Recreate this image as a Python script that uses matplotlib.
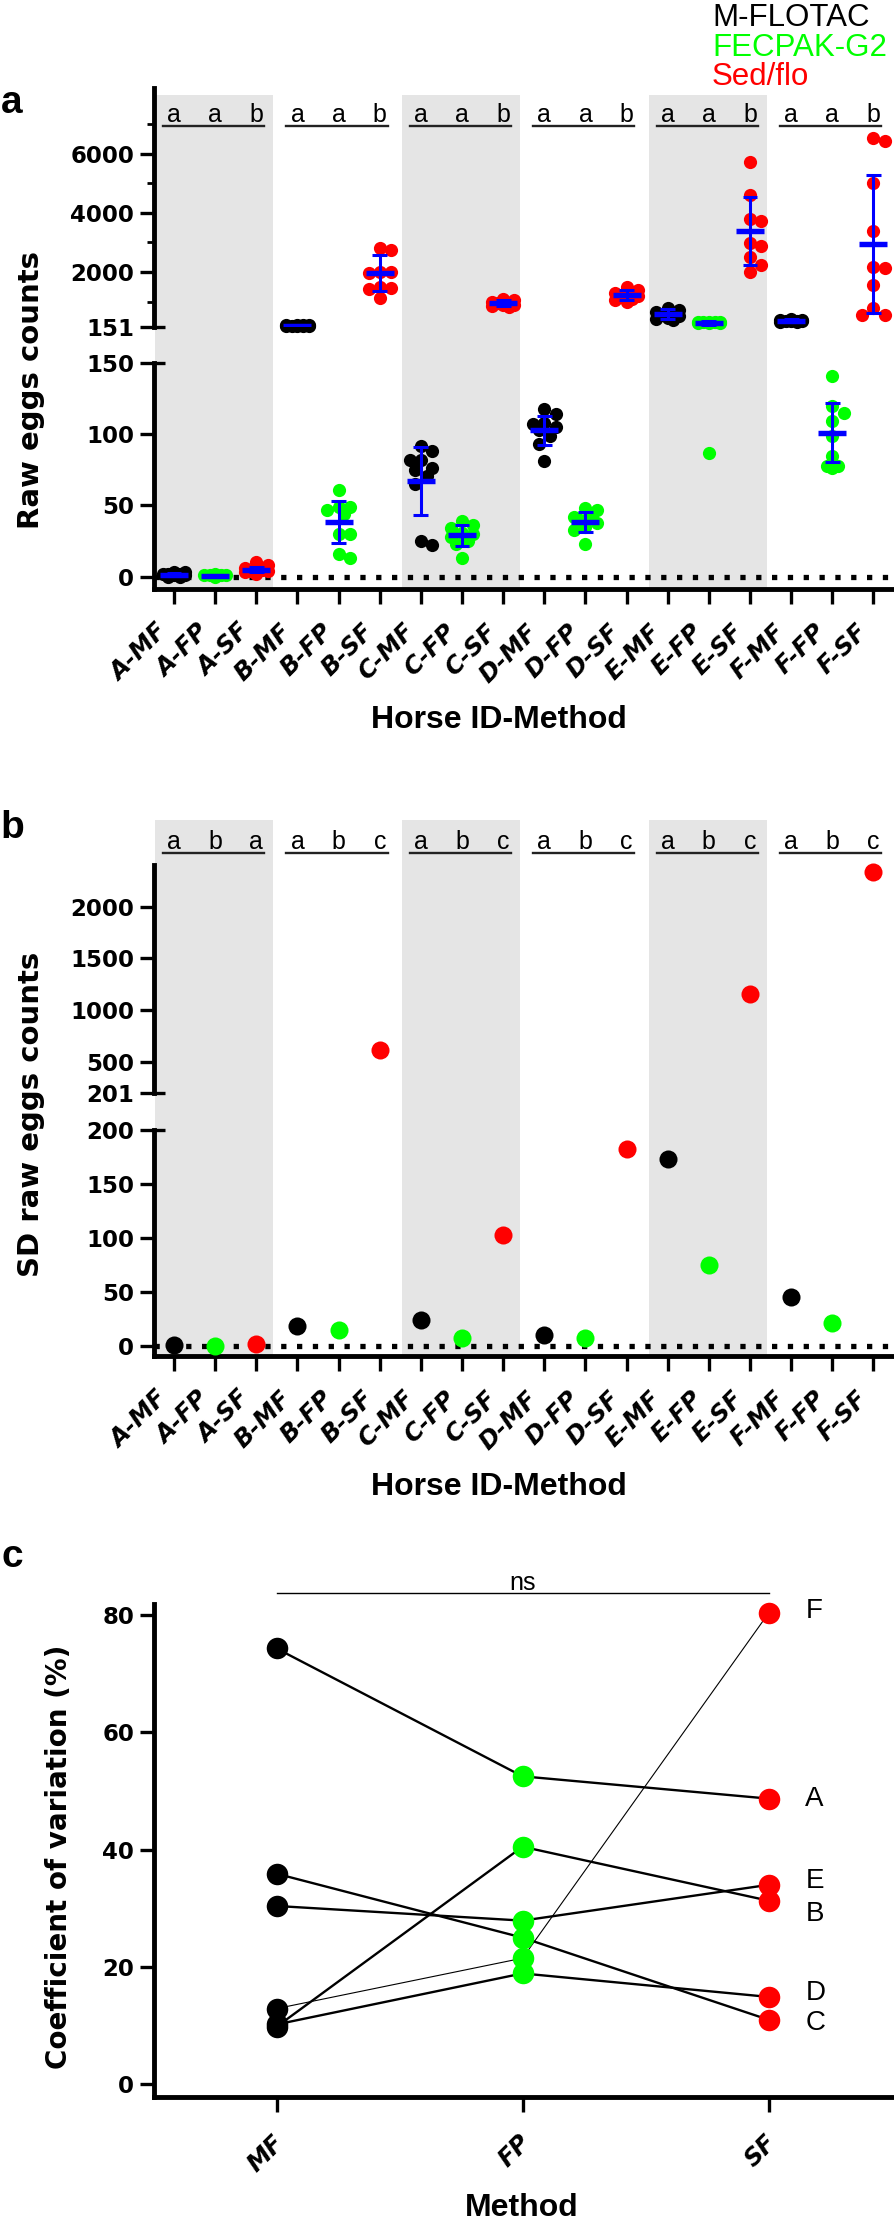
import matplotlib
matplotlib.use('Agg')
import matplotlib.pyplot as plt
from matplotlib.transforms import blended_transform_factory, ScaledTranslation

W, H, DPI = 894, 2232, 100

# ---------------- data ----------------
horses = ['A', 'B', 'C', 'D', 'E', 'F']
methods = ['MF', 'FP', 'SF']
categories = [h + '-' + m for h in horses for m in methods]
method_names = ['M-FLOTAC', 'FECPAK-G2', 'Sed/flo']
method_colors = ['#000000', '#00ff00', '#ff0000']

raw_A_MF = [0, 0, 1, 1, 2, 2, 2, 3, 3]
raw_A_FP = [0, 1, 1, 1, 1, 1, 1, 1, 2]
raw_A_SF = [2, 3, 4, 4, 5, 5, 6, 8, 10]
raw_B_MF = [165, 172, 180, 185, 190, 195, 200, 208, 215]
raw_B_FP = [61, 49, 49, 47, 44, 30, 30, 16, 13]
raw_B_SF = [2805, 2747, 1990, 1990, 1950, 1500, 1467, 1423, 1107]
raw_C_MF = [92, 88, 82, 82, 76, 75, 71, 65, 25, 22]
raw_C_FP = [39, 36, 34, 31, 30, 28, 25, 23, 13]
raw_C_SF = [1100, 1050, 1000, 960, 940, 900, 880, 850, 820]
raw_D_MF = [118, 114, 108, 107, 105, 103, 99, 93, 81]
raw_D_FP = [48, 47, 42, 41, 40, 38, 35, 33, 23]
raw_D_SF = [1500, 1400, 1300, 1250, 1200, 1150, 1100, 1050, 1000]
raw_E_MF = [780, 720, 650, 600, 560, 500, 450, 400, 380]
raw_E_FP = [320, 310, 305, 300, 295, 290, 285, 280, 87]
raw_E_SF = [5726, 4601, 3790, 3723, 2970, 2878, 2517, 2236, 1990]
raw_F_MF = [410, 390, 370, 360, 355, 350, 340, 320, 300]
raw_F_FP = [141, 120, 115, 109, 99, 85, 78, 78, 76]
raw_F_SF = [6517, 6436, 4996, 3395, 2179, 2125, 1561, 794, 547, 547]
raw_groups = [raw_A_MF, raw_A_FP, raw_A_SF, raw_B_MF, raw_B_FP, raw_B_SF,
              raw_C_MF, raw_C_FP, raw_C_SF, raw_D_MF, raw_D_FP, raw_D_SF,
              raw_E_MF, raw_E_FP, raw_E_SF, raw_F_MF, raw_F_FP, raw_F_SF]

mean_vals = [1.5, 0.8, 4.8, 190, 38.6, 1955, 67.3, 29.0, 943, 102.8, 38.5, 1223,
             571, 275, 3385, 355, 101.2, 2936]
sd_vals = [1.0, 0.3, 1.8, 18.5, 14.8, 613, 24.0, 7.1, 103, 10.2, 7.1, 182,
           173, 75, 1159, 45.7, 21.0, 2338]

letters_a = [['a', 'a', 'b']] * 6
letters_b = [['a', 'b', 'a'], ['a', 'b', 'c'], ['a', 'b', 'c'],
             ['a', 'b', 'c'], ['a', 'b', 'c'], ['a', 'b', 'c']]

cv_MF = [74.3, 9.8, 35.9, 10.2, 30.4, 12.9]
cv_FP = [52.5, 40.5, 25.0, 18.9, 27.9, 21.5]
cv_SF = [48.7, 31.3, 11.0, 14.9, 34.0, 80.3]
cv_label_y = [48.7, 29.0, 10.4, 15.6, 34.6, 80.6]

# ---------------- style ----------------
plt.rcParams['font.family'] = ['Liberation Sans', 'DejaVu Sans']
plt.rcParams['font.weight'] = 'bold'
SPINE_LW = 3.5
TICK_W = 2.4
TICK_L = 10
TICK_FS = 16.5
GRAY = '#e5e5e5'
BOLDFONT = 'DejaVu Sans'

fig = plt.figure(figsize=(W / DPI, H / DPI), dpi=DPI)


def add_ax(l, t, r, b, z=1):
    ax = fig.add_axes([l / W, 1 - b / H, (r - l) / W, (b - t) / H])
    ax.set_zorder(z)
    ax.patch.set_alpha(0)
    return ax


def style(ax, bottom=False):
    for s in ['top', 'right']:
        ax.spines[s].set_visible(False)
    ax.spines['bottom'].set_visible(bottom)
    ax.spines['left'].set_linewidth(SPINE_LW)
    ax.spines['bottom'].set_linewidth(SPINE_LW)
    ax.tick_params(axis='y', which='major', length=TICK_L, width=TICK_W,
                   labelsize=TICK_FS, pad=4)
    ax.tick_params(axis='y', which='minor', length=5, width=2)
    if bottom:
        ax.tick_params(axis='x', which='major', length=11, width=TICK_W,
                       labelbottom=False)
    else:
        ax.set_xticks([])


def set_yt(ax, ticks):
    ax.set_yticks(ticks)
    ax.set_yticklabels([str(t) for t in ticks], family=BOLDFONT,
                       fontweight='bold', fontsize=TICK_FS)


def break_mark(ax, yv):
    tr = blended_transform_factory(ax.transAxes, ax.transData)
    ax.plot([0, 0.016], [yv, yv], color='k', lw=TICK_W, transform=tr,
            clip_on=False, solid_capstyle='butt', zorder=5)


def xlabels(ax, labels, fs, dx, dy):
    tr = blended_transform_factory(ax.transData, ax.transAxes) + \
        ScaledTranslation(dx / DPI, -dy / DPI, fig.dpi_scale_trans)
    for i, lab in enumerate(labels):
        ax.text(i, 0, lab, transform=tr, rotation=45, rotation_mode='anchor',
                ha='right', va='center', fontsize=fs, family=BOLDFONT,
                fontweight='bold', fontstyle='oblique', clip_on=False)


def swarm(values, center, diam, ax_up, ax_lo, thresh, ppu):
    step = diam * 0.45
    cands = [0.0]
    for k in (1, 2):
        cands += [k * step, -k * step]
    placed, xs = [], []
    for v in values:
        ax = ax_up if v >= thresh else ax_lo
        y = ax.transData.transform((0, v))[1]
        best, bestd = 0.0, -1
        for x in cands:
            d = min([((x - px) ** 2 + (y - py) ** 2) ** 0.5 for px, py in placed],
                    default=1e9)
            if d >= 0.85 * diam:
                best = x
                break
            if d > bestd:
                best, bestd = x, d
        placed.append((best, y))
        xs.append(center + best / ppu)
    return xs


L, R = 153.5, 894
NCAT = len(categories)
XLIM = (-0.5, NCAT - 0.5)
PPU = (R - L) / NCAT


def background(top, bottom, letters, base_y, line_y):
    bg = add_ax(L, top, R, bottom, z=0)
    bg.set_xlim(*XLIM)
    bg.set_ylim(0, 1)
    bg.axis('off')
    for g in range(len(horses)):
        if g % 2 == 0:
            bg.axvspan(3 * g - 0.455, 3 * g + 2.405, color=GRAY, lw=0)
    tr = blended_transform_factory(bg.transData, fig.transFigure)
    for g, lets in enumerate(letters):
        for j, t in enumerate(lets):
            bg.text(3 * g + j, 1 - base_y / H, t, transform=tr, ha='center',
                    va='baseline', fontsize=18, fontweight='normal',
                    clip_on=False)
        bg.plot([3 * g - 0.27, 3 * g + 2.19], [1 - line_y / H] * 2, color='#222222',
                lw=1.7, transform=tr, clip_on=False)
    return bg


# ================= panel a =================
background(95, 589, letters_a, 121.5, 126)
ua = add_ax(L, 88, R, 326.7)
la = add_ax(L, 363, R, 589)
for ax in (ua, la):
    ax.set_xlim(*XLIM)
ua.set_ylim(151, 8221)
la.set_ylim(-8.63, 150)
style(ua)
style(la, bottom=True)
set_yt(ua, [151, 2000, 4000, 6000])
ua.set_yticks([1000, 3000, 5000, 7000], minor=True)
set_yt(la, [0, 50, 100, 150])
la.set_xticks(range(NCAT))
xlabels(la, categories, 17.5, -10, 39)
break_mark(ua, 151)
break_mark(la, 150)
la.axhline(0, color='k', lw=3.8, linestyle=(0, (1, 2)), zorder=1)

for i, vals in enumerate(raw_groups):
    col = method_colors[i % 3]
    svals = sorted(vals, reverse=True)
    xs = swarm(svals, i, 12.5, ua, la, 151, PPU)
    for x, v in zip(xs, svals):
        ax = ua if v >= 151 else la
        ax.scatter([x], [v], s=9.5 ** 2, color=col, linewidths=0, zorder=3,
                   clip_on=False)
    m, s = mean_vals[i], sd_vals[i]
    ax = ua if m >= 151 else la
    ax.vlines(i, m - s, m + s, color='#0000ff', lw=2.2, zorder=4)
    ax.hlines([m - s, m + s], i - 0.18, i + 0.18, color='#0000ff', lw=2.2, zorder=4)
    ax.hlines(m, i - 0.34, i + 0.34, color='#0000ff', lw=3.9, zorder=5)

fig.text(31 / W, 1 - 390 / H, 'Raw eggs counts', rotation=90, ha='center',
         va='center', family=BOLDFONT, fontweight='bold', fontsize=21)
fig.text(499 / W, 1 - 720 / H, 'Horse ID-Method', ha='center', va='center',
         fontsize=23, fontweight='bold')
fig.text(12 / W, 1 - 103 / H, 'a', ha='center', va='center', fontsize=28,
         fontweight='bold')
for k, (nm, c) in enumerate(zip(method_names, method_colors)):
    fig.text(712 / W, 1 - (18 + 29.5 * k) / H, nm, color=c, ha='left',
             va='center', fontsize=22.5, fontweight='normal')

# ================= panel b =================
background(820, 1356, letters_b, 849, 853.5)
ub = add_ax(L, 865, R, 1092.6)
lb = add_ax(L, 1130, R, 1356)
for ax in (ub, lb):
    ax.set_xlim(*XLIM)
ub.set_ylim(201, 2403)
lb.set_ylim(-9.26, 200)
style(ub)
style(lb, bottom=True)
set_yt(ub, [201, 500, 1000, 1500, 2000])
set_yt(lb, [0, 50, 100, 150, 200])
lb.set_xticks(range(NCAT))
xlabels(lb, categories, 17.5, -10, 39)
break_mark(ub, 201)
break_mark(lb, 200)
lb.axhline(0, color='k', lw=3.8, linestyle=(0, (1, 2)), zorder=1)
for i, s in enumerate(sd_vals):
    ax = ub if s >= 201 else lb
    ax.scatter([i], [s], s=13 ** 2, color=method_colors[i % 3], linewidths=0,
               zorder=3, clip_on=False)

fig.text(31 / W, 1 - 1114 / H, 'SD raw eggs counts', rotation=90, ha='center',
         va='center', family=BOLDFONT, fontweight='bold', fontsize=21)
fig.text(499 / W, 1 - 1487 / H, 'Horse ID-Method', ha='center', va='center',
         fontsize=23, fontweight='bold')
fig.text(12 / W, 1 - 828 / H, 'b', ha='center', va='center', fontsize=28,
         fontweight='bold')

# ================= panel c =================
cx = add_ax(L, 1604, R, 2097)
cx.set_xlim(-0.5, 2.51)
cx.set_ylim(-2.165, 81.875)
style(cx, bottom=True)
set_yt(cx, [0, 20, 40, 60, 80])
cx.set_xticks(range(3))
xlabels(cx, methods, 17.5, 4, 42)
for h in range(len(horses)):
    ys = [cv_MF[h], cv_FP[h], cv_SF[h]]
    cx.plot(range(3), ys, color='k', lw=0.8 if horses[h] == 'F' else 1.7, zorder=2)
for j, arr in enumerate([cv_MF, cv_FP, cv_SF]):
    cx.scatter([j] * len(arr), arr, s=15.5 ** 2, color=method_colors[j],
               linewidths=0, zorder=3, clip_on=False)
for h in range(len(horses)):
    cx.text(2.15, cv_label_y[h], horses[h], ha='left', va='center', fontsize=20,
            fontweight='normal')
cx.plot([0, 2], [83.7, 83.7], color='k', lw=1.0, clip_on=False)
cx.text(1, 84.2, 'ns', ha='center', va='baseline', fontsize=18,
        fontweight='normal', clip_on=False)

fig.text(59 / W, 1 - 1857 / H, 'Coefficient of variation (%)', rotation=90,
         ha='center', va='center', family=BOLDFONT, fontweight='bold',
         fontsize=20)
fig.text(522 / W, 1 - 2208 / H, 'Method', ha='center', va='center', fontsize=23,
         fontweight='bold')
fig.text(12 / W, 1 - 1557 / H, 'c', ha='center', va='center', fontsize=28,
         fontweight='bold')

fig.savefig('out.png', dpi=DPI)
